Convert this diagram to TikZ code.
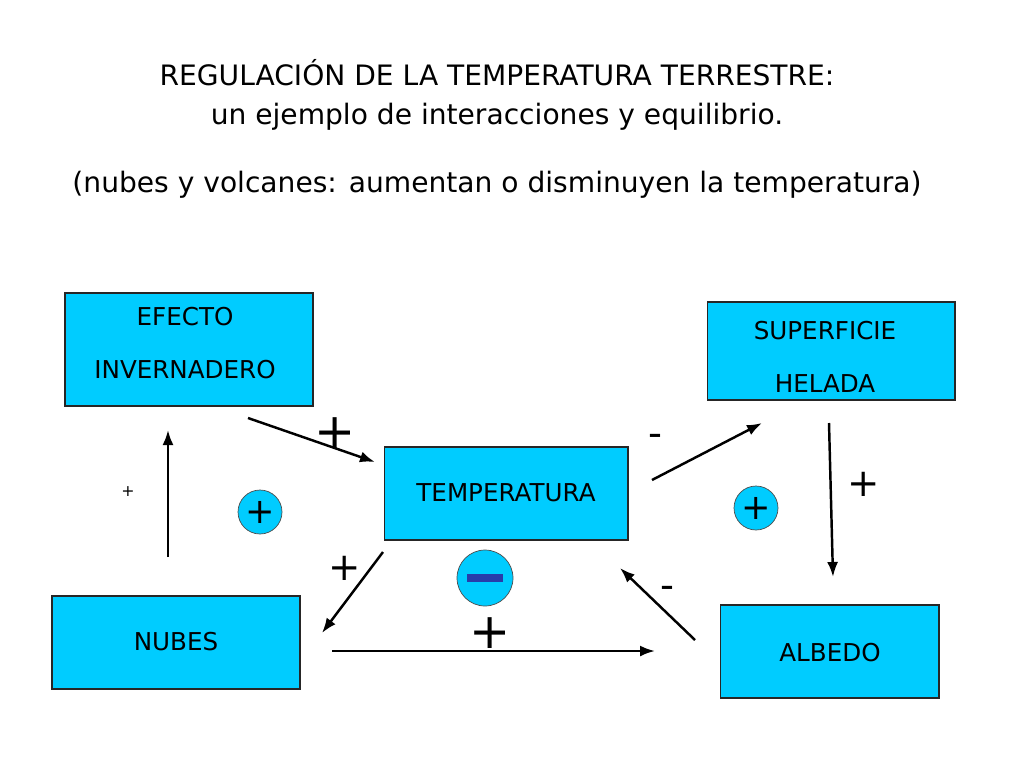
\documentclass[tikz,border=0pt]{standalone}
\usepackage{fontspec}
\setmainfont{DejaVu Sans}
\usetikzlibrary{arrows.meta,positioning}
\definecolor{boxcyan}{RGB}{0,204,255}
\definecolor{bardark}{RGB}{40,60,170}
\tikzset{
  caja/.style={draw=black!85,line width=0.6pt,fill=boxcyan,minimum width=#1,minimum height=1.86cm,font=\fontsize{14}{17}\selectfont,align=center},
  flecha/.style={-{Latex[length=3mm,width=2.2mm]},line width=1.4pt},
  signo/.style={font=\fontsize{22}{22}\selectfont},
  bola/.style={circle,draw=black!70,fill=boxcyan,minimum size=0.88cm,inner sep=0pt,font=\fontsize{20}{20}\selectfont}
}
\begin{document}
\begin{tikzpicture}[x=0.02cm,y=-0.02cm]
\useasboundingbox (0,0) rectangle (1024,768);
% titulo
\node[font=\fontsize{16}{22}\selectfont,align=center] (titulo) at (497,95)
  {REGULACIÓN DE LA TEMPERATURA TERRESTRE:\\un ejemplo de interacciones y equilibrio.};
\node[font=\fontsize{16}{22}\selectfont] (subtitulo) at (497,185)
  {(nubes y volcanes: aumentan o disminuyen la temperatura)};
% cajas
\node[caja=4.96cm,minimum height=2.26cm] (efecto) at (189,349.5) {};
\node[caja=4.96cm,minimum height=1.96cm] (helada) at (831,351) {};
\node[caja=4.88cm] (temp) at (506,493.5) {};
\node[caja=4.96cm] (nubes) at (176,642.5) {};
\node[caja=4.38cm] (albedo) at (829.5,651.5) {};
\node[font=\fontsize{14}{30}\selectfont,align=center] (tefecto) at (185,343) {EFECTO\\INVERNADERO};
\node[font=\fontsize{14}{30}\selectfont,align=center] (thelada) at (825,357) {SUPERFICIE\\HELADA};
\node[font=\fontsize{14}{17}\selectfont] (ttemp) at (506,493) {TEMPERATURA};
\node[font=\fontsize{14}{17}\selectfont] (tnubes) at (176,642) {NUBES};
\node[font=\fontsize{14}{17}\selectfont] (talbedo) at (830,653) {ALBEDO};
% extremos de flechas
\coordinate (a1) at (248,418);  \coordinate (a2) at (375,462);
\coordinate (b1) at (168,557);  \coordinate (b2) at (168,430);
\coordinate (c1) at (652,480);  \coordinate (c2) at (762,423);
\coordinate (d1) at (829,423);  \coordinate (d2) at (833,577);
\coordinate (e1) at (695,640);  \coordinate (e2) at (620,568);
\coordinate (f1) at (383,552);  \coordinate (f2) at (322,633);
\coordinate (g1) at (332,651);  \coordinate (g2) at (655,651);
\draw[flecha] (a1) -- (a2);
\draw[flecha] (b1) -- (b2);
\draw[flecha] (c1) -- (c2);
\draw[flecha] (d1) -- (d2);
\draw[flecha] (e1) -- (e2);
\draw[flecha] (f1) -- (f2);
\draw[flecha] (g1) -- (g2);
% signos
\node[signo,font=\fontsize{28}{28}\selectfont] (sa) at (335,433) {+};
\node[font=\small] (sb) at (128,492) {+};
\node[signo] (sc) at (655,440) {-};
\node[signo] (sd) at (864,484) {+};
\node[signo] (se) at (667,592) {-};
\node[signo] (sf) at (345,568) {+};
\node[signo,font=\fontsize{28}{28}\selectfont] (sg) at (490,633) {+};
% bucles
\node[bola] (bizq) at (260,512) {+};
\node[bola] (bder) at (756,508) {+};
\node[bola,minimum size=1.12cm] (bcen) at (485,578) {};
\fill[bardark] ([xshift=-0.36cm,yshift=-0.08cm]bcen.center) rectangle ([xshift=0.36cm,yshift=0.08cm]bcen.center);
\end{tikzpicture}
\end{document}
